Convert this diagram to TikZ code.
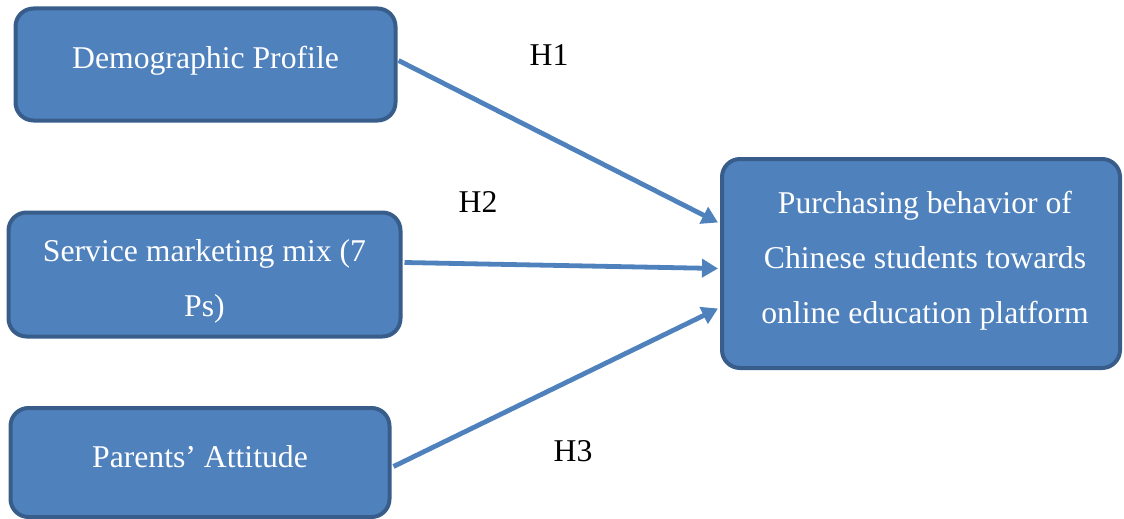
\documentclass[tikz,border=0pt]{standalone}
\usepackage{fontspec}
\setmainfont{Liberation Serif}
\usetikzlibrary{arrows.meta,calc}
\definecolor{boxfill}{HTML}{4F81BD}
\definecolor{boxline}{HTML}{385D8A}
\definecolor{arrowc}{HTML}{4F81BD}
\begin{document}
\begin{tikzpicture}[x=1pt,y=-1pt,
  box/.style={draw=boxline,fill=boxfill,line width=4pt,rounded corners=18pt,inner sep=0pt},
  boxtext/.style={text=white,font=\fontsize{31.7}{55}\selectfont,align=center,inner sep=0pt},
  htext/.style={text=black,font=\fontsize{31.7}{55}\selectfont,inner sep=0pt},
  link/.style={draw=arrowc,line width=4.8pt,-{Triangle[length=16pt,width=18pt]}}]
\useasboundingbox (0,0) rectangle (1124,519);
% boxes
\node[box,minimum width=380,minimum height=112] (b1) at (205.5,64.5) {};
\node[box,minimum width=392,minimum height=124] (b2) at (204.5,274.5) {};
\node[box,minimum width=379,minimum height=109] (b3) at (200,462.5) {};
\node[box,minimum width=398,minimum height=209] (b4) at (921,263.5) {};
% texts
\node[boxtext,anchor=base] (t1) at (205.5,68) {Demographic Profile};
\node[boxtext] (t2) at (204.5,281) {Service marketing mix (7\\Ps)};
\node[boxtext,anchor=base] (t3) at (200,467) {Parents’ Attitude};
\node[boxtext] (t4) at (925,261) {Purchasing behavior of\\Chinese students towards\\online education platform};
% hypothesis labels
\node[htext,anchor=base] (h1) at (549,66) {H1};
\node[htext,anchor=base] (h2) at (478,212) {H2};
\node[htext,anchor=base] (h3) at (573,461) {H3};
% connectors
\coordinate (e1) at ([yshift=41pt,xshift=-2pt]b4.west);
\coordinate (e2) at ([yshift=-5pt,xshift=-2pt]b4.west);
\coordinate (e3) at ([yshift=-45pt,xshift=-2pt]b4.west);
\draw[link] ([yshift=4pt,xshift=1pt]b1.east) -- (e1);
\draw[link] ([yshift=12pt,xshift=2pt]b2.east) -- (e2);
\draw[link] ([yshift=-4pt,xshift=2pt]b3.east) -- (e3);
\end{tikzpicture}
\end{document}
